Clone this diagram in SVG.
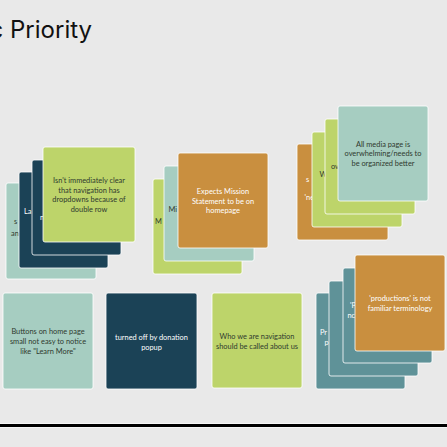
<svg xmlns="http://www.w3.org/2000/svg" width="447" height="447" viewBox="0 0 447 447">
  <style>
    .card { stroke: #ffffff; stroke-opacity: 0.8; stroke-width: 1; }
    .teal { fill: #a6cdc1; }
    .navy { fill: #1b4256; }
    .lime { fill: #bdd46a; }
    .orange { fill: #c98f3f; }
    .sea { fill: #5f9298; }
    .t { font-family: "Lato", "Liberation Sans", sans-serif; font-size: 7.4px; text-anchor: middle; }
    .f { font-family: "Lato", "Liberation Sans", sans-serif; font-size: 7.4px; }
    .dark { fill: #2f3a2f; }
    .light { fill: #ffffff; }
    .title { font-family: "Inter", "Liberation Sans", sans-serif; font-size: 24px; fill: #111111; }
  </style>
  <rect x="0" y="0" width="447" height="447" fill="#e9e9e9"/>

  <text class="title" x="92" y="38" text-anchor="end">c Priority</text>

  <!-- Stack: navigation dropdowns -->
  <g id="stack-navigation">
    <rect class="card teal" x="6" y="183" width="90" height="96" rx="2"/>
    <text class="f dark" x="14" y="224">s</text>
    <text class="f dark" x="11" y="235.5">an</text>
    <rect class="card navy" x="19" y="172" width="89" height="96" rx="2"/>
    <text class="f light" x="24" y="213.5">La</text>
    <rect class="card navy" x="32" y="160" width="89" height="95" rx="2"/>
    <text class="f light" x="40" y="219.5">n</text>
    <rect class="card lime" x="43" y="147" width="92" height="95" rx="2"/>
    <text class="t dark" x="89" y="183">Isn't immediately clear</text>
    <text class="t dark" x="89" y="192.5">that navigation has</text>
    <text class="t dark" x="89" y="202">dropdowns because of</text>
    <text class="t dark" x="89" y="211.5">double row</text>
  </g>

  <!-- Stack: mission statement -->
  <g id="stack-mission">
    <rect class="card lime" x="153" y="179" width="89" height="95" rx="2"/>
    <text class="f dark" x="155" y="224">M</text>
    <rect class="card teal" x="164" y="166" width="90" height="95" rx="2"/>
    <text class="f dark" x="168.5" y="211.5">Mi</text>
    <rect class="card orange" x="178" y="153" width="90" height="95" rx="2"/>
    <text class="t light" x="223" y="194">Expects Mission</text>
    <text class="t light" x="223" y="203.5">Statement to be on</text>
    <text class="t light" x="223" y="213">homepage</text>
  </g>

  <!-- Stack: media page -->
  <g id="stack-media">
    <rect class="card orange" x="297" y="144" width="91" height="96" rx="2"/>
    <text class="f light" x="306" y="181.5">s</text>
    <text class="f light" x="304.5" y="200">'ne</text>
    <rect class="card lime" x="312" y="132" width="90" height="95" rx="2"/>
    <text class="f dark" x="319.5" y="176.5">W</text>
    <rect class="card lime" x="325" y="119" width="90" height="95" rx="2"/>
    <text class="f dark" x="331" y="169">ov</text>
    <rect class="card teal" x="338" y="106" width="90" height="95" rx="2"/>
    <text class="t dark" x="383" y="146.5">All media page is</text>
    <text class="t dark" x="383" y="156">overwhelming/needs to</text>
    <text class="t dark" x="383" y="165.5">be organized better</text>
  </g>

  <!-- Single notes -->
  <g id="note-buttons">
    <rect class="card teal" x="3" y="293" width="90" height="96" rx="2"/>
    <text class="t dark" x="48" y="334">Buttons on home page</text>
    <text class="t dark" x="48" y="344">small not easy to notice</text>
    <text class="t dark" x="48" y="353.5">like "Learn More"</text>
  </g>

  <g id="note-donation">
    <rect class="card navy" x="106" y="293" width="91" height="96" rx="2"/>
    <text class="t light" x="151.5" y="339.5">turned off by donation</text>
    <text class="t light" x="151.5" y="349.5">popup</text>
  </g>

  <g id="note-about">
    <rect class="card lime" x="212" y="293" width="90" height="95" rx="2"/>
    <text class="t dark" x="257" y="339">Who we are navigation</text>
    <text class="t dark" x="257" y="349">should be called about us</text>
  </g>

  <!-- Stack: productions terminology -->
  <g id="stack-productions">
    <rect class="card sea" x="316" y="293" width="89" height="96" rx="2"/>
    <text class="f light" x="320" y="334.5">Pr</text>
    <text class="f light" x="324.5" y="345">p</text>
    <rect class="card sea" x="329" y="281" width="89" height="95" rx="2"/>
    <rect class="card sea" x="343" y="268" width="89" height="95" rx="2"/>
    <text class="f light" x="350" y="307.5">'P</text>
    <text class="f light" x="347.5" y="317.5">nc</text>
    <rect class="card orange" x="355" y="255" width="90" height="96" rx="2"/>
    <text class="t light" x="400" y="300.5">'productions' is not</text>
    <text class="t light" x="400" y="310.5">familiar terminology</text>
  </g>

  <!-- Divider -->
  <rect x="0" y="423" width="447" height="5" fill="#ffffff" fill-opacity="0.6"/>
  <rect x="0" y="424" width="447" height="3" fill="#000000"/>
</svg>
